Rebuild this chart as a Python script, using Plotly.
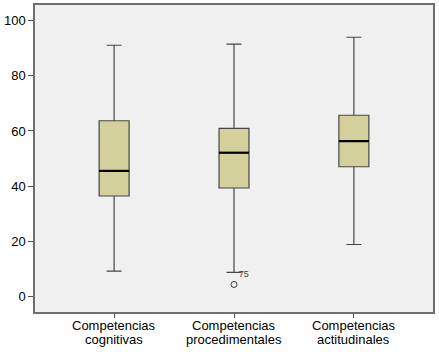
import plotly.graph_objects as go

categories = ["Competencias<br>cognitivas", "Competencias<br>procedimentales", "Competencias<br>actitudinales"]
lower_whisker = [9.1, 8.7, 18.8]
q1 = [36.4, 39.3, 47.0]
median = [45.5, 52.1, 56.3]
q3 = [63.7, 60.9, 65.7]
upper_whisker = [91.1, 91.5, 94.0]
outlier_cat = [1]
outlier_val = [4.3]
outlier_label = ["75"]

xs = list(range(len(categories)))
box_w = 0.25
FONT = "Liberation Sans, Arial"

fig = go.Figure()
fig.add_trace(go.Box(
    x=xs, q1=q1, median=median, q3=q3,
    lowerfence=lower_whisker, upperfence=upper_whisker,
    width=box_w, whiskerwidth=0.5,
    fillcolor="rgb(212,208,155)",
    line=dict(color="rgb(70,70,70)", width=1.2),
    boxpoints=False, showlegend=False, hoverinfo="skip",
))
# thicker black median lines
for i, m in zip(xs, median):
    fig.add_trace(go.Scatter(
        x=[i - box_w / 2, i + box_w / 2], y=[m, m], mode="lines",
        line=dict(color="black", width=2.2), showlegend=False, hoverinfo="skip",
    ))
fig.add_trace(go.Scatter(
    x=outlier_cat, y=outlier_val, mode="markers+text",
    marker=dict(symbol="circle-open", size=6, color="rgb(60,60,60)", line=dict(width=1)),
    text=outlier_label, textposition="top right",
    textfont=dict(family=FONT, size=9, color="rgb(60,60,60)"),
    showlegend=False, hoverinfo="skip",
))

# category labels as two tightly spaced lines
for i, cat in zip(xs, categories):
    for k, line in enumerate(cat.split("<br>")):
        fig.add_annotation(
            x=i, xref="x", y=0, yref="paper", yanchor="middle",
            yshift=-13 - 14 * k, text=line, showarrow=False,
            font=dict(family=FONT, size=13, color="black"),
        )

fig.update_layout(
    width=439, height=352,
    margin=dict(l=35, r=6, t=5, b=40),
    paper_bgcolor="white", plot_bgcolor="rgb(240,240,240)",
    font=dict(family=FONT, size=13, color="black"),
    xaxis=dict(
        range=[-0.66, 2.66], tickvals=xs, showticklabels=False, automargin=False,
        showgrid=False, zeroline=False, showline=True, linecolor="rgb(110,110,110)",
        linewidth=1.5, mirror=True, ticks="outside", ticklen=4, tickcolor="rgb(80,80,80)",
    ),
    yaxis=dict(
        range=[-5.7, 105.7], tickvals=[0, 20, 40, 60, 80, 100], automargin=False,
        showgrid=False, zeroline=False, showline=True, linecolor="rgb(110,110,110)",
        linewidth=1.5, mirror=True, ticks="outside", ticklen=5, tickcolor="rgb(80,80,80)",
    ),
)

fig.write_html("out.html")
